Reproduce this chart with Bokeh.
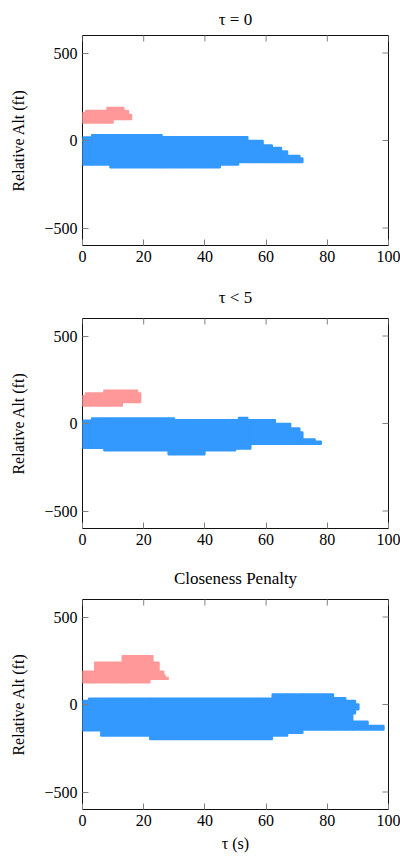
import math
from bokeh.plotting import figure
from bokeh.layouts import column
from bokeh.models import FixedTicker, Range1d, ColumnDataSource
from bokeh.embed import file_html
from bokeh.resources import INLINE

# ---------------- data ----------------
titles = ["τ = 0", "τ < 5", "Closeness Penalty"]
x_ticks = [0, 20, 40, 60, 80, 100]
y_ticks = [-500, 0, 500]
y_tick_labels = {-500: "−500", 0: "0", 500: "500"}
x_limits = (0, 100)
y_limits = (-600, 600)
y_label = "Relative Alt (ft)"
x_label = "τ (s)"

# panel 1 (tau = 0): time steps [t0, t1] with altitude bounds [lo, hi]
blue1_t0 = [0, 3, 9, 26, 45, 51, 54, 59, 62, 65, 67, 71]
blue1_t1 = [3, 9, 26, 45, 51, 54, 59, 62, 65, 67, 71, 72]
blue1_lo = [-140, -140, -155, -155, -140, -125, -125, -125, -125, -125, -125, -125]
blue1_hi = [20, 33, 33, 22, 22, 22, 0, -25, -40, -60, -85, -100]

red1_t0 = [0, 1, 8, 10, 13.5, 15]
red1_t1 = [1, 8, 10, 13.5, 15, 16]
red1_lo = [100, 100, 100, 120, 120, 120]
red1_hi = [158, 172, 188, 188, 172, 148]

# panel 2 (tau < 5)
blue2_t0 = [0, 3, 7, 28, 30, 40, 50, 51, 54, 55, 63, 68, 71, 72, 76]
blue2_t1 = [3, 7, 28, 30, 40, 50, 51, 54, 55, 63, 68, 71, 72, 76, 78]
blue2_lo = [-142, -142, -156, -178, -178, -156, -146, -146, -146, -118, -118, -118, -118, -118, -118]
blue2_hi = [18, 32, 32, 32, 22, 22, 22, 35, 22, 22, 0, -25, -48, -88, -102]

red2_t0 = [0, 1, 7, 13, 18]
red2_t1 = [1, 7, 13, 18, 19]
red2_lo = [100, 100, 100, 120, 120]
red2_hi = [158, 175, 190, 190, 175]

# panel 3 (closeness penalty)
blue3_t0 = [0, 2, 6, 22, 62, 67, 72, 82, 86, 88.3, 89.2, 88.3, 93.3]
blue3_t1 = [2, 6, 22, 62, 67, 72, 82, 86, 88.3, 89.2, 90.3, 93.3, 98.5]
blue3_lo = [-150, -150, -180, -200, -180, -164, -145, -145, -145, -53, -30, -145, -145]
blue3_hi = [23, 36, 36, 36, 60, 60, 60, 38, 23, 23, 3, -95, -120]

red3_t0 = [0, 4, 13, 22, 23, 25, 26.5, 27]
red3_t1 = [4, 13, 22, 23, 25, 26.5, 27, 28]
red3_lo = [125, 125, 125, 145, 145, 145, 145, 145]
red3_hi = [190, 242, 278, 278, 242, 190, 168, 155]

BLUE = "#3399FF"
RED = "#FF9999"
TICK = "#808080"
FONT = "Liberation Serif"


def make_panel(title, blue, red, height, top, bottom, standoff, xlabel=None):
    p = figure(width=400, height=height,
               x_range=Range1d(*x_limits), y_range=Range1d(*y_limits),
               output_backend="svg", toolbar_location=None,
               min_border_left=82, min_border_right=12,
               min_border_top=top, min_border_bottom=bottom)
    p.title.text = title
    p.title.align = "center"
    p.title.text_font = FONT
    p.title.text_font_size = "17px"
    p.title.text_font_style = "normal"
    p.title.text_color = "black"
    p.title.standoff = standoff
    p.grid.visible = False
    p.outline_line_color = "#111111"
    p.outline_line_width = 1
    p.background_fill_color = "white"

    for (t0, t1, lo, hi), col in ((blue, BLUE), (red, RED)):
        src = ColumnDataSource(dict(left=t0, right=t1, bottom=lo, top=hi))
        p.quad(left="left", right="right", bottom="bottom", top="top", source=src,
               fill_color=col, line_color=col, line_width=1.5)

    # tick marks on the top and right frame edges (inward, clipped to frame)
    p.scatter(x=x_ticks, y=[y_limits[1]] * len(x_ticks), marker="dash",
              angle=math.pi / 2, size=12, line_color=TICK, line_width=1)
    p.scatter(x=[x_limits[1]] * len(y_ticks), y=y_ticks, marker="dash",
              size=12, line_color=TICK, line_width=1)

    xa = p.xaxis[0]
    xa.ticker = FixedTicker(ticks=x_ticks)
    ya = p.yaxis[0]
    ya.ticker = FixedTicker(ticks=y_ticks)
    ya.major_label_overrides = y_tick_labels
    ya.axis_label = y_label
    ya.axis_label_standoff = 14
    if xlabel:
        xa.axis_label = xlabel
        xa.axis_label_standoff = 6
    for ax in (xa, ya):
        ax.axis_line_color = None
        ax.major_tick_in = 6
        ax.major_tick_out = 0
        ax.major_tick_line_color = TICK
        ax.minor_tick_line_color = None
        ax.major_label_text_font = FONT
        ax.major_label_text_font_size = "16px"
        ax.major_label_text_color = "black"
        ax.major_label_standoff = 5
        ax.axis_label_text_font = FONT
        ax.axis_label_text_font_size = "16px"
        ax.axis_label_text_font_style = "normal"
        ax.axis_label_text_color = "black"
    return p


p1 = make_panel(titles[0], (blue1_t0, blue1_t1, blue1_lo, blue1_hi),
                (red1_t0, red1_t1, red1_lo, red1_hi), 273, 34, 28, 14)
p2 = make_panel(titles[1], (blue2_t0, blue2_t1, blue2_lo, blue2_hi),
                (red2_t0, red2_t1, red2_lo, red2_hi), 281, 44, 26, 24)
p3 = make_panel(titles[2], (blue3_t0, blue3_t1, blue3_lo, blue3_hi),
                (red3_t0, red3_t1, red3_lo, red3_hi), 304, 44, 49, 24, xlabel=x_label)

layout = column(p1, p2, p3, spacing=0)
open("out.html", "w").write(file_html(layout, INLINE))
